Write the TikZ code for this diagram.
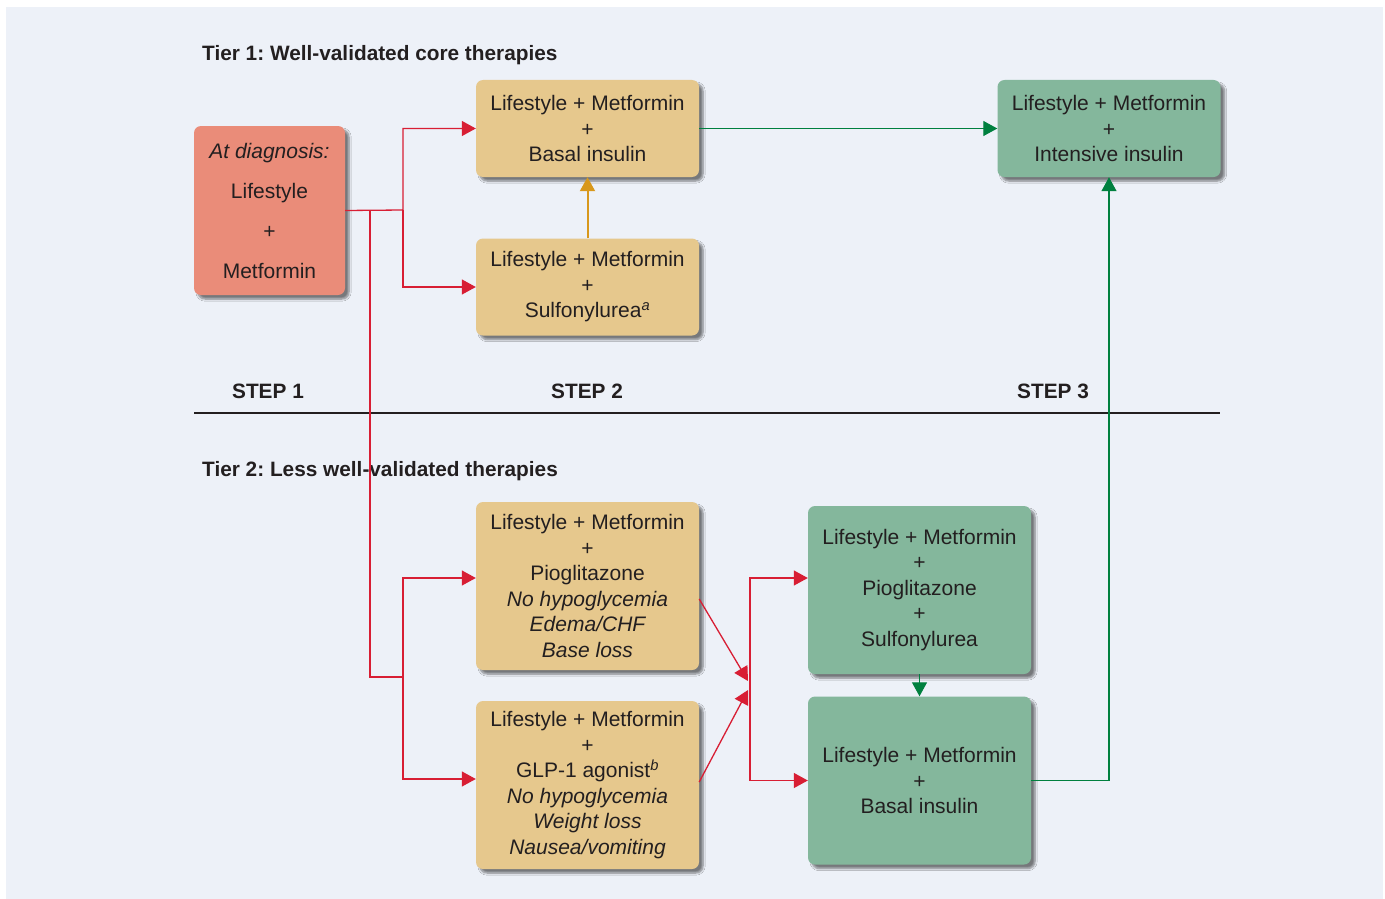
\documentclass[tikz,border=0pt]{standalone}
\usepackage{fontspec}
\setmainfont{Liberation Sans}
\usepackage{xcolor}
\usetikzlibrary{arrows.meta, shadows.blur}

\definecolor{panelbg}{HTML}{EDF1F8}
\definecolor{salmon}{HTML}{EA8C79}
\definecolor{tan}{HTML}{E6C88D}
\definecolor{sage}{HTML}{84B79C}
\definecolor{inkred}{HTML}{D81E34}
\definecolor{inkgreen}{HTML}{00803F}
\definecolor{inktan}{HTML}{D8981C}
\definecolor{ink}{HTML}{231F20}

\begin{document}
\frenchspacing
\begin{tikzpicture}[x=1pt, y=-1pt,
    every node/.style={text=ink},
    box/.style={rectangle, rounded corners=7pt, align=center, inner sep=0pt,
      minimum width=223pt, font=\fontsize{21}{25.5}\selectfont,
      blur shadow={shadow xshift=4pt, shadow yshift=-4pt, shadow opacity=50, shadow blur steps=6}},
    coreA/.style={box, fill=tan, minimum height=97pt},
    coreB/.style={box, fill=sage, minimum height=97pt},
    altA/.style={box, fill=tan, minimum height=168pt},
    altB/.style={box, fill=sage, minimum height=168pt},
    heading/.style={anchor=west, inner sep=0pt, font=\fontsize{20.8}{24}\selectfont\bfseries},
    steplabel/.style={font=\fontsize{20.8}{24}\selectfont\bfseries},
    link/.style={line width=1.3pt, -{Triangle[length=14pt, width=15pt]}},
    redlink/.style={link, draw=inkred},
    greenlink/.style={link, draw=inkgreen}
  ]
  \useasboundingbox (0,0) rectangle (1385,899);
  \fill[panelbg] (6,7) rectangle (1383,899);

  % tier 1
  \node[heading] (tier1) at (202,55) {Tier 1: Well-validated core therapies};
  \node[box, fill=salmon, minimum width=151pt, minimum height=169pt,
    font=\fontsize{21}{40}\selectfont] (diag) at (269.5,210.5)
    {\itshape At diagnosis:\\Lifestyle\\+\\Metformin};
  \node[coreA] (basal) at (587.5,128.5) {Lifestyle + Metformin\\+\\Basal insulin};
  \node[coreA] (sulf) at (587.5,287) {Lifestyle + Metformin\\+\\Sulfonylurea\textsuperscript{\itshape a}};
  \node[coreB] (intens) at (1109,128.5) {Lifestyle + Metformin\\+\\Intensive insulin};

  % steps
  \node[steplabel] (s1) at (268,391) {STEP 1};
  \node[steplabel] (s2) at (587,391) {STEP 2};
  \node[steplabel] (s3) at (1053,391) {STEP 3};
  \draw[line width=2pt, ink] (194,413) -- (1220,413);

  % tier 2
  \node[heading] (tier2) at (202,471) {Tier 2: Less well-validated therapies};
  \node[altA] (pio) at (587.5,586)
    {Lifestyle + Metformin\\+\\Pioglitazone\\\itshape No hypoglycemia\\\itshape Edema/CHF\\\itshape Base loss};
  \node[altA] (glp) at (587.5,785)
    {Lifestyle + Metformin\\+\\GLP-1 agonist\textsuperscript{\itshape b}\\\itshape No hypoglycemia\\\itshape Weight loss\\\itshape Nausea/vomiting};
  \node[altB] (piosu) at (919.5,590)
    {Lifestyle + Metformin\\+\\Pioglitazone\\+\\Sulfonylurea};
  \node[altB] (basal2) at (919.5,780.5) {Lifestyle + Metformin\\+\\Basal insulin};

  % junctions
  \coordinate (j1) at (403,210);
  \coordinate (j2) at (370,210);
  \coordinate (j3) at (403,677);
  \coordinate (j4) at (750,686);
  \coordinate (t1) at (748,681);
  \coordinate (t2) at (748,690);

  % red paths
  \draw[redlink] (diag.east) -- (j1) |- (basal.west);
  \draw[redlink] (j1) |- (sulf.west);
  \draw[line width=1.3pt, inkred] (j2) |- (j3);
  \draw[redlink] (j3) |- ([yshift=8pt]pio.west);
  \draw[redlink] (j3) |- ([yshift=6pt]glp.west);
  \draw[redlink] ([yshift=-13pt]pio.east) -- (t1);
  \draw[redlink] ([yshift=3pt]glp.east) -- (t2);
  \draw[redlink] (j4) |- ([yshift=12pt]piosu.west);
  \draw[redlink] (j4) |- (basal2.west);

  % other paths
  \draw[link, color=inktan, line width=2pt] (sulf.north) -- (basal.south);
  \draw[greenlink, line width=1.2pt] (basal.east) -- (intens.west);
  \draw[greenlink, line width=1.2pt] (piosu.south) -- (basal2.north);
  \draw[greenlink, line width=1.2pt] (basal2.east) -| (intens.south);
\end{tikzpicture}
\end{document}
